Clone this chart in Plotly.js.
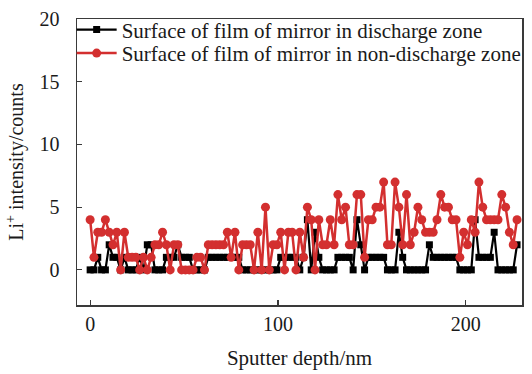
<!DOCTYPE html>
<html>
<head>
<meta charset="utf-8">
<script src="https://cdn.plot.ly/plotly-3.0.1.min.js"></script>
<style>
  html, body { margin: 0; padding: 0; background: #fff; }
  #chart { width: 532px; height: 374px; }
</style>
</head>
<body>
<div id="chart"></div>
<script>
// Li+ counts sampled along the sputter depth (uniform depth step)
const depthStart = 0;     // nm
const depthStep = 2.03;   // nm between samples

const dischargeCounts = [
  0, 0, 1, 0, 0, 2, 1, 1, 0, 1, 0, 0, 0, 1, 0, 2, 2, 0, 0, 0,
  1, 1, 1, 2, 1, 1, 1, 0, 0, 0, 0, 1, 1, 1, 1, 1, 1, 1, 1, 1,
  0, 0, 0, 0, 0, 0, 0, 0, 0, 0, 1, 1, 1, 1, 1, 0, 1, 4, 0, 3,
  1, 0, 0, 0, 0, 1, 1, 1, 1, 0, 4, 2, 0, 1, 1, 1, 1, 1, 0, 0,
  0, 3, 1, 0, 0, 0, 0, 0, 0, 2, 1, 1, 1, 1, 1, 1, 1, 0, 0, 0,
  0, 4, 1, 1, 1, 1, 3, 0, 0, 0, 0, 0, 2
];

const nonDischargeCounts = [
  4, 1, 3, 3, 4, 3, 2, 3, 0, 3, 1, 1, 1, 0, 1, 0, 1, 2, 2, 3,
  2, 0, 2, 2, 0, 0, 0, 0, 1, 1, 0, 2, 2, 2, 2, 2, 3, 1, 3, 0,
  2, 2, 2, 0, 3, 0, 5, 0, 2, 2, 3, 0, 3, 3, 0, 3, 1, 5, 4, 0,
  4, 2, 2, 4, 2, 6, 4, 5, 2, 2, 6, 6, 1, 4, 4, 5, 5, 7, 2, 2,
  7, 5, 2, 6, 2, 3, 5, 4, 3, 3, 3, 4, 6, 5, 5, 4, 4, 1, 3, 2,
  4, 3, 7, 5, 4, 4, 4, 4, 6, 5, 3, 2, 4
];

const seriesNames = [
  "Surface of film of mirror in discharge zone",
  "Surface of film of mirror in non-discharge zone"
];

const xTicks = [0, 100, 200];
const yTicks = [0, 5, 10, 15, 20];

const serif = "Liberation Serif, Times New Roman, serif";
const ink = "#1a1a1a";
const axisLine = "#3a3a3a";

const traces = [
  {
    type: "scatter",
    mode: "lines+markers",
    name: seriesNames[0],
    legend: "legend",
    x0: depthStart,
    dx: depthStep,
    y: dischargeCounts,
    line: { color: "#000000", width: 2.2 },
    marker: { symbol: "square", size: 7, color: "#000000" }
  },
  {
    type: "scatter",
    mode: "lines+markers",
    name: seriesNames[1],
    legend: "legend2",
    x0: depthStart,
    dx: depthStep,
    y: nonDischargeCounts,
    line: { color: "#d32f2f", width: 2.5 },
    marker: { symbol: "circle", size: 9, color: "#d32f2f" }
  }
];

// each series keyed in its own compact legend row
function legendRow(yPos) {
  return {
    x: -0.012,
    y: yPos,
    xanchor: "left",
    yanchor: "top",
    bgcolor: "rgba(255,255,255,0)",
    borderwidth: 0,
    font: { family: serif, size: 21, color: ink },
    itemwidth: 40
  };
}

const layout = {
  width: 532,
  height: 374,
  margin: { l: 77, r: 10, t: 18, b: 69 },
  paper_bgcolor: "#ffffff",
  plot_bgcolor: "#ffffff",
  font: { family: serif, size: 19, color: ink },
  showlegend: true,
  legend: legendRow(1.03),
  legend2: legendRow(0.948),
  xaxis: {
    range: [-7, 230],
    tickvals: xTicks,
    ticktext: xTicks.map(String),
    ticks: "inside",
    ticklen: 5,
    tickwidth: 1.2,
    tickcolor: axisLine,
    showgrid: false,
    zeroline: false,
    showline: true,
    linecolor: axisLine,
    linewidth: 1.5,
    mirror: true,
    tickfont: { family: serif, size: 20, color: ink },
    title: { text: "Sputter depth/nm", font: { family: serif, size: 21, color: ink }, standoff: 17 }
  },
  yaxis: {
    range: [-2.8, 20],
    tickvals: yTicks,
    ticktext: yTicks.map(String),
    ticks: "inside",
    ticklen: 5,
    tickwidth: 1.2,
    tickcolor: axisLine,
    showgrid: false,
    zeroline: false,
    showline: true,
    linecolor: axisLine,
    linewidth: 1.5,
    mirror: true,
    ticklabelstandoff: 12,
    tickfont: { family: serif, size: 20, color: ink },
    title: { text: "Li<sup>+</sup> intensity/counts", font: { family: serif, size: 20, color: ink }, standoff: 10 }
  }
};

Plotly.newPlot("chart", traces, layout, { displayModeBar: false, staticPlot: true });
</script>
</body>
</html>
